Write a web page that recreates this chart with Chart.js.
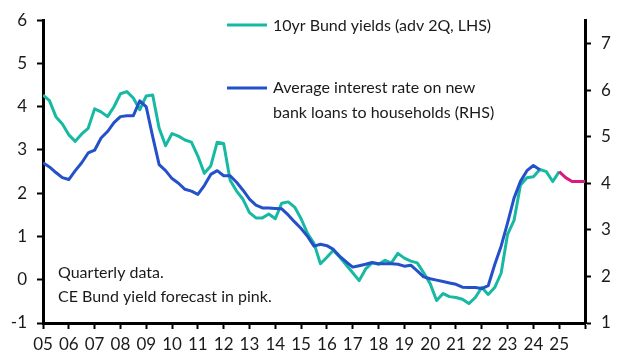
<!DOCTYPE html>
<html lang="en">
<head>
<meta charset="UTF-8">
<title>Bund yields and bank loan rates</title>
<script src="https://cdn.jsdelivr.net/npm/chart.js"></script>
<style>
  html, body { margin: 0; padding: 0; background: #fff; }
  #wrap { width: 626px; height: 361px; }
</style>
</head>
<body>
<div id="wrap"><canvas id="chart" width="626" height="361"></canvas></div>
<script>
// quarterly data, first point = 2005 Q1
const startYear = 2005;
const yearTicks = ['05','06','07','08','09','10','11','12','13','14','15','16','17','18','19','20','21','22','23','24','25'];

// 10yr Bund yield, advanced 2Q (LHS), 2005Q1 - 2025Q1
const bundYield = [
  4.27, 4.14, 3.77, 3.60, 3.35, 3.20, 3.37, 3.50, 3.95, 3.88, 3.77, 4.00,
  4.30, 4.35, 4.20, 3.93, 4.25, 4.27, 3.50, 3.10, 3.38, 3.32, 3.23, 3.18,
  2.86, 2.46, 2.63, 3.18, 3.15, 2.30, 2.05, 1.86, 1.55, 1.43, 1.43, 1.52,
  1.41, 1.77, 1.80, 1.68, 1.41, 1.07, 0.84, 0.37, 0.52, 0.68, 0.52, 0.34,
  0.16, -0.02, 0.25, 0.39, 0.36, 0.45, 0.39, 0.61, 0.50, 0.43, 0.39, 0.16,
  -0.09, -0.48, -0.32, -0.39, -0.41, -0.45, -0.55, -0.41, -0.18, -0.34, -0.18, 0.15,
  1.05, 1.37, 2.19, 2.36, 2.38, 2.55, 2.50, 2.27, 2.50
];
// Capital Economics forecast (pink), 2025Q1 - 2026Q1
const forecastStart = 80;
const bundForecast = [2.50, 2.36, 2.27, 2.27, 2.27];

// average interest rate on new bank loans to households (RHS), 2005Q1 - 2024Q2
const loanRate = [
  4.44, 4.35, 4.23, 4.12, 4.08, 4.27, 4.44, 4.65, 4.71, 4.97, 5.11, 5.30,
  5.43, 5.45, 5.45, 5.77, 5.64, 5.00, 4.40, 4.27, 4.10, 4.00, 3.87, 3.83,
  3.76, 3.95, 4.19, 4.27, 4.16, 4.16, 4.02, 3.85, 3.66, 3.53, 3.47, 3.47,
  3.46, 3.45, 3.32, 3.17, 3.03, 2.86, 2.65, 2.69, 2.66, 2.58, 2.43, 2.31,
  2.20, 2.23, 2.26, 2.30, 2.27, 2.27, 2.27, 2.26, 2.22, 2.24, 2.12, 1.99,
  1.95, 1.92, 1.89, 1.86, 1.83, 1.77, 1.76, 1.76, 1.74, 1.80, 2.25, 2.65,
  3.15, 3.68, 4.04, 4.27, 4.38, 4.29
];

const quarter = i => startYear + i / 4;
const toPoints = (arr, offset) => arr.map((v, i) => ({ x: quarter(i + offset), y: v }));

const FONT = 'Lato, "Liberation Sans", sans-serif';
const TEXT = '#1a1a1a';

const textPlugin = {
  id: 'textPlugin',
  afterDraw(chart) {
    const c = chart.ctx;
    c.save();
    c.font = '16px ' + FONT;
    c.fillStyle = TEXT;
    c.textBaseline = 'middle';
    c.lineWidth = 3;
    // legend
    c.strokeStyle = '#17b9a2';
    c.beginPath(); c.moveTo(227, 25); c.lineTo(267, 25); c.stroke();
    c.strokeStyle = '#2451c9';
    c.beginPath(); c.moveTo(227, 88); c.lineTo(267, 88); c.stroke();
    c.fillText('10yr Bund yields (adv 2Q, LHS)', 273, 26);
    c.fillText('Average interest rate on new', 273, 88);
    c.fillText('bank loans to households (RHS)', 273, 113);
    // note
    c.fillText('Quarterly data.', 58, 273);
    c.fillText('CE Bund yield forecast in pink.', 58, 297);
    c.restore();
  }
};

const axisBorder = { display: true, color: '#000', width: 3 };
const axisGrid = { drawOnChartArea: false, drawTicks: true, tickLength: 6, tickWidth: 2, tickColor: '#000' };
const tickFont = { family: FONT, size: 17 };

new Chart(document.getElementById('chart'), {
  type: 'line',
  data: {
    datasets: [
      {
        label: 'Average interest rate on new bank loans to households (RHS)',
        data: toPoints(loanRate, 0),
        yAxisID: 'y2',
        borderColor: '#2451c9',
        borderWidth: 3,
        order: 0
      },
      {
        label: 'CE forecast',
        data: toPoints(bundForecast, forecastStart),
        yAxisID: 'y',
        borderColor: '#d81b7c',
        borderWidth: 3,
        order: 1
      },
      {
        label: '10yr Bund yields (adv 2Q, LHS)',
        data: toPoints(bundYield, 0),
        yAxisID: 'y',
        borderColor: '#17b9a2',
        borderWidth: 3,
        order: 2
      }
    ]
  },
  options: {
    responsive: false,
    animation: false,
    events: [],
    layout: { padding: { top: 15, right: 0, left: 0, bottom: 0 } },
    elements: {
      point: { radius: 0 },
      line: { tension: 0, fill: false, borderJoinStyle: 'round' }
    },
    plugins: { legend: { display: false }, tooltip: { enabled: false } },
    scales: {
      x: {
        type: 'linear',
        min: 2005,
        max: 2026,
        border: axisBorder,
        grid: axisGrid,
        afterFit(s) { s.height = 38; },
        ticks: {
          stepSize: 1,
          autoSkip: false,
          maxRotation: 0,
          padding: 5,
          color: TEXT,
          font: tickFont,
          callback: v => yearTicks[v - startYear] ?? ''
        }
      },
      y: {
        position: 'left',
        min: -1,
        max: 6,
        border: axisBorder,
        grid: axisGrid,
        afterFit(s) { s.width = 43; },
        ticks: {
          stepSize: 1,
          padding: 10,
          color: TEXT,
          font: tickFont
        }
      },
      y2: {
        position: 'right',
        min: 1,
        max: 7.5,
        border: axisBorder,
        grid: axisGrid,
        afterFit(s) { s.width = 41; },
        ticks: {
          stepSize: 1,
          includeBounds: false,
          padding: 10,
          color: TEXT,
          font: tickFont
        }
      }
    }
  },
  plugins: [textPlugin]
});
</script>
</body>
</html>
